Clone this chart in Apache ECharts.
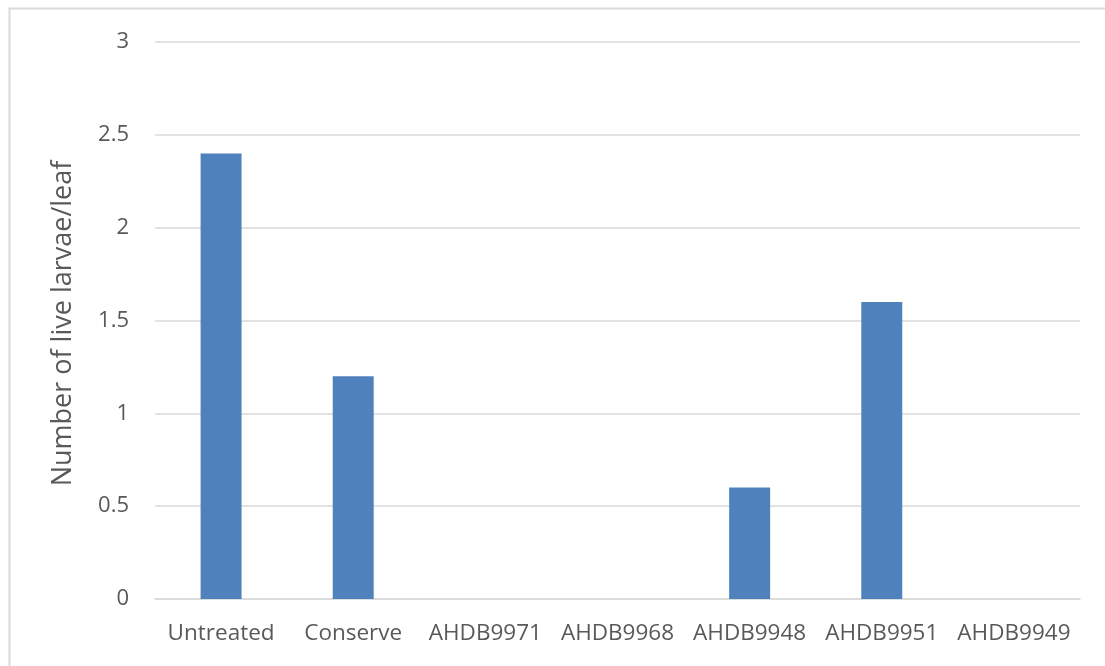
<!DOCTYPE html>
<html>
<head>
<meta charset="utf-8">
<script src="https://cdn.jsdelivr.net/npm/echarts@6/dist/echarts.min.js"></script>
<style>
  html, body { margin: 0; padding: 0; background: #fff; }
  #chart { width: 1105px; height: 666px; }
</style>
</head>
<body>
<div id="chart"></div>
<script>
// Treatments along the x axis
const categories = ['Untreated', 'Conserve', 'AHDB9971', 'AHDB9968', 'AHDB9948', 'AHDB9951', 'AHDB9949'];
// Mean number of live larvae per leaf
const larvaePerLeaf = [2.4, 1.2, 0, 0, 0.6, 1.6, 0];
// Value axis range
const yMin = 0;
const yMax = 3;
const yStep = 0.5;

const textColor = '#595959';
const fontFamily = '"Open Sans", "Liberation Sans", sans-serif';

const chart = echarts.init(document.getElementById('chart'));
chart.setOption({
  animation: false,
  backgroundColor: '#ffffff',
  graphic: [{
    type: 'rect',
    shape: { x: 9.5, y: 8.5, width: 1110, height: 670 },
    style: { fill: 'none', stroke: '#d9d9d9', lineWidth: 2 },
    silent: true
  }],
  grid: { left: 155, right: 25, top: 42, bottom: 67, containLabel: false },
  xAxis: {
    type: 'category',
    data: categories,
    axisLine: { show: true, lineStyle: { color: '#d9d9d9', width: 1.5 } },
    axisTick: { show: false },
    axisLabel: { color: textColor, fontSize: 22.5, fontFamily: fontFamily, margin: 23, interval: 0 }
  },
  yAxis: {
    type: 'value',
    min: yMin,
    max: yMax,
    interval: yStep,
    name: 'Number of live larvae/leaf',
    nameLocation: 'middle',
    nameGap: 78,
    nameTextStyle: { color: textColor, fontSize: 27, fontFamily: fontFamily, padding: [0, 0, 0, -6] },
    axisLine: { show: false },
    axisTick: { show: false },
    splitLine: { lineStyle: { color: '#d9d9d9', width: 1.5 } },
    axisLabel: { color: textColor, fontSize: 22, fontFamily: fontFamily, margin: 26 }
  },
  series: [{
    type: 'bar',
    data: larvaePerLeaf,
    barWidth: '31%',
    itemStyle: { color: '#4f81bd' }
  }]
});
</script>
</body>
</html>
